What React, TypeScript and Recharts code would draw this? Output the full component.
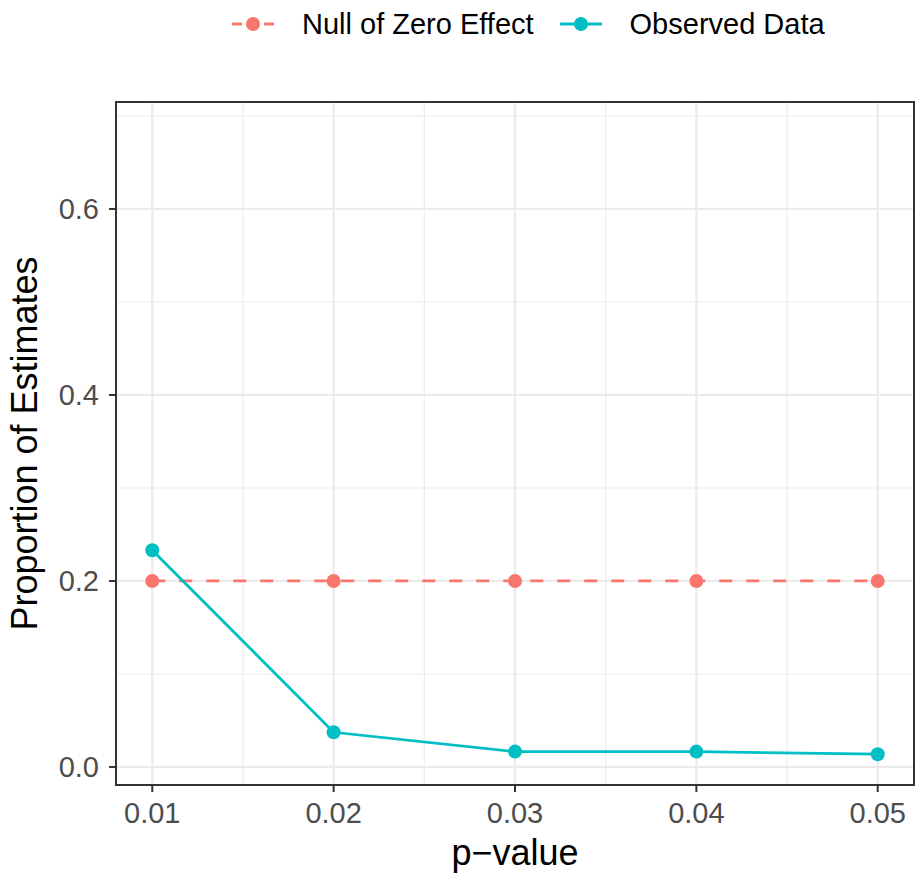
import { LineChart, Line, XAxis, YAxis, CartesianGrid, Legend, ReferenceArea } from 'recharts'

const pValues = [0.01, 0.02, 0.03, 0.04, 0.05]
const nullEffect = [0.2, 0.2, 0.2, 0.2, 0.2]
const observed = [0.233, 0.0373, 0.0165, 0.0165, 0.0137]

const xTicks = [0.01, 0.02, 0.03, 0.04, 0.05]
const xMinor = [0.015, 0.025, 0.035, 0.045]
const yTicks = [0, 0.2, 0.4, 0.6]
const yMinor = [0.1, 0.3, 0.5, 0.7]
const X_DOMAIN = [0.008, 0.052]
const Y_DOMAIN = [-0.0194, 0.715]

const RED = '#F8766D'
const TEAL = '#00BFC4'
const FONT = '"Liberation Sans", Arial, sans-serif'

const data = pValues.map((p, i) => ({ p, nullEffect: nullEffect[i], observed: observed[i] }))

const series = [
  { key: 'nullEffect', name: 'Null of Zero Effect', color: RED, dash: '13 14' },
  { key: 'observed', name: 'Observed Data', color: TEAL, dash: undefined },
]

function LegendBox() {
  return (
    <div style={{ display: 'flex', alignItems: 'center', paddingLeft: 232, height: 48, fontFamily: FONT, fontSize: 29, color: '#000' }}>
      {series.map((s, i) => (
        <div key={s.key} style={{ display: 'flex', alignItems: 'center', marginRight: i === 0 ? 26 : 0 }}>
          <svg width={42} height={20}>
            <line x1={0} x2={42} y1={10} y2={10} stroke={s.color} strokeWidth={2.8} strokeDasharray={s.dash ? '10 6' : undefined} />
            <circle cx={21} cy={10} r={7} fill={s.color} />
          </svg>
          <span style={{ marginLeft: 28, whiteSpace: 'nowrap' }}>{s.name}</span>
        </div>
      ))}
    </div>
  )
}

export default function App() {
  return (
    <div style={{ position: 'absolute', left: 0, top: 0, background: '#fff' }}>
      <LineChart width={915} height={877} data={data} margin={{ top: 54, right: 1, bottom: 0, left: 0 }}>
        <CartesianGrid horizontalValues={yMinor} verticalValues={xMinor} stroke="#ebebeb" strokeWidth={1.1} fill="none" />
        <CartesianGrid horizontalValues={yTicks} verticalValues={xTicks} stroke="#ebebeb" strokeWidth={2.2} fill="none" />
        <XAxis
          dataKey="p"
          type="number"
          domain={X_DOMAIN}
          ticks={xTicks}
          allowDataOverflow
          tickFormatter={(v) => v.toFixed(2)}
          height={92}
          axisLine={false}
          tickSize={7}
          tickMargin={10}
          tickLine={{ stroke: '#333333', strokeWidth: 2 }}
          tick={{ fill: '#4d4d4d', fontSize: 29, fontFamily: FONT }}
          label={{ value: 'p\u2212value', position: 'insideBottom', offset: 12, fill: '#000', fontSize: 36, fontFamily: FONT }}
        />
        <YAxis
          type="number"
          domain={Y_DOMAIN}
          ticks={yTicks}
          allowDataOverflow
          tickFormatter={(v) => v.toFixed(1)}
          width={116}
          axisLine={false}
          tickSize={7}
          tickMargin={10}
          tickLine={{ stroke: '#333333', strokeWidth: 2 }}
          tick={{ fill: '#4d4d4d', fontSize: 29, fontFamily: FONT }}
          label={{ value: 'Proportion of Estimates', angle: -90, position: 'insideLeft', offset: 24, fill: '#000', fontSize: 36, fontFamily: FONT, style: { textAnchor: 'middle' } }}
        />
        <Legend verticalAlign="top" content={<LegendBox />} wrapperStyle={{ top: 0, left: 0, width: 915, height: 48 }} />
        {series.map((s) => (
          <Line
            key={s.key}
            dataKey={s.key}
            name={s.name}
            stroke={s.color}
            strokeWidth={2.8}
            strokeDasharray={s.dash}
            dot={{ r: 7, fill: s.color, stroke: 'none' }}
            activeDot={false}
            isAnimationActive={false}
          />
        ))}
        <ReferenceArea x1={X_DOMAIN[0]} x2={X_DOMAIN[1]} y1={Y_DOMAIN[0]} y2={Y_DOMAIN[1]} fill="none" stroke="#333333" strokeWidth={2} ifOverflow="visible" />
      </LineChart>
    </div>
  )
}
